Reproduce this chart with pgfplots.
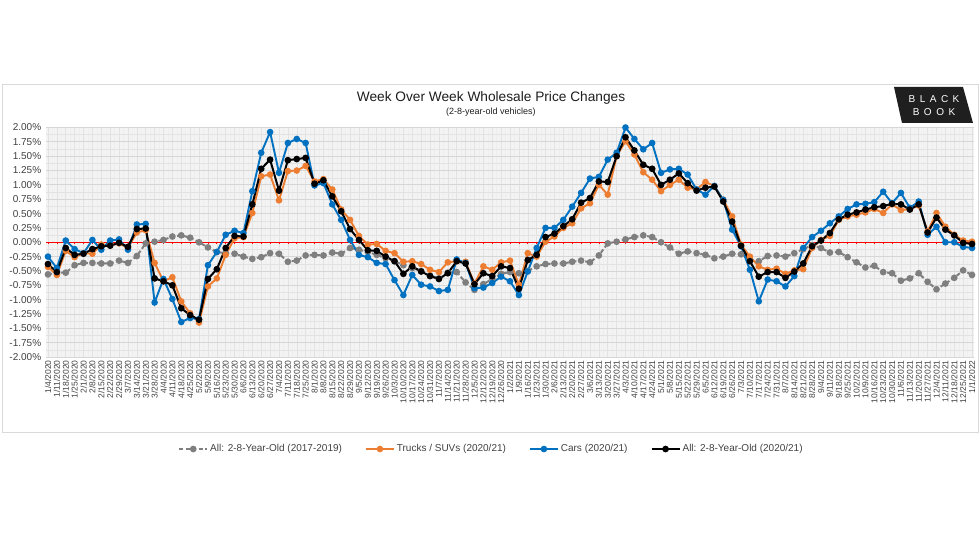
\documentclass[border=0pt]{standalone}
\usepackage{pgfplots}
\pgfplotsset{compat=1.18}
\usepackage{pgfplotstable}
\usepackage{fontspec}
\setmainfont{Liberation Sans}

\definecolor{cars}{RGB}{0,112,192}
\definecolor{trucks}{RGB}{237,125,49}
\definecolor{oldgray}{RGB}{127,127,127}
\definecolor{bggray}{RGB}{243,243,243}
\definecolor{hgrid}{RGB}{214,214,214}
\definecolor{vgrid}{RGB}{226,226,226}
\definecolor{framegray}{RGB}{217,217,217}
\definecolor{labelgray}{RGB}{64,64,64}
\definecolor{titlegray}{RGB}{30,30,30}

% week, all 2017-2019, trucks 2020/21, cars 2020/21, all 2020/21
\pgfplotstableread{
w   old    trucks  cars   all
0   -0.56  -0.43  -0.25  -0.38
1   -0.53  -0.57  -0.45  -0.52
2   -0.53  -0.15   0.03  -0.10
3   -0.40  -0.26  -0.12  -0.22
4   -0.36  -0.19  -0.19  -0.20
5   -0.36  -0.20   0.04  -0.12
6   -0.37  -0.04  -0.13  -0.07
7   -0.37  -0.05   0.03  -0.06
8   -0.32  -0.02   0.05  -0.01
9   -0.36  -0.10  -0.13  -0.08
10  -0.24   0.17   0.31   0.23
11  -0.02   0.21   0.32   0.24
12   0.01  -0.36  -1.05  -0.63
13   0.04  -0.68  -0.64  -0.68
14   0.10  -0.61  -0.99  -0.75
15   0.12  -1.03  -1.39  -1.15
16   0.08  -1.24  -1.32  -1.27
17   0.00  -1.40  -1.34  -1.35
18  -0.09  -0.77  -0.40  -0.64
19  -0.17  -0.63  -0.17  -0.47
20  -0.19  -0.22   0.13  -0.10
21  -0.20   0.07   0.20   0.11
22  -0.25   0.09   0.16   0.10
23  -0.29   0.51   0.89   0.66
24  -0.26   1.15   1.56   1.28
25  -0.19   1.18   1.92   1.44
26  -0.20   0.73   1.21   0.90
27  -0.34   1.24   1.73   1.43
28  -0.32   1.25   1.80   1.45
29  -0.23   1.33   1.73   1.47
30  -0.22   1.06   0.99   1.02
31  -0.23   1.10   1.03   1.08
32  -0.18   0.92   0.66   0.80
33  -0.20   0.57   0.39   0.54
34  -0.10   0.39   0.04   0.23
35  -0.13   0.11  -0.22   0.04
36  -0.17  -0.04  -0.26  -0.14
37  -0.22  -0.03  -0.36  -0.15
38  -0.28  -0.15  -0.38  -0.25
39  -0.33  -0.19  -0.66  -0.33
40  -0.40  -0.34  -0.92  -0.55
41  -0.45  -0.33  -0.57  -0.42
42  -0.50  -0.38  -0.74  -0.51
43  -0.58  -0.48  -0.77  -0.59
44  -0.63  -0.52  -0.85  -0.64
45  -0.53  -0.35  -0.83  -0.54
46  -0.52  -0.33  -0.30  -0.33
47  -0.70  -0.34  -0.36  -0.37
48  -0.83  -0.72  -0.80  -0.73
49  -0.73  -0.42  -0.79  -0.54
50  -0.64  -0.48  -0.71  -0.59
51  -0.55  -0.35  -0.60  -0.42
52  -0.52  -0.32  -0.68  -0.45
53  -0.54  -0.74  -0.92  -0.81
54  -0.50  -0.19  -0.51  -0.31
55  -0.42  -0.25  -0.10  -0.22
56  -0.38   0.01   0.25   0.09
57  -0.37   0.10   0.25   0.15
58  -0.37   0.25   0.39   0.28
59  -0.34   0.33   0.62   0.40
60  -0.32   0.59   0.86   0.69
61  -0.35   0.68   1.11   0.77
62  -0.23   1.00   1.14   1.06
63  -0.02   0.83   1.44   1.05
64   0.01   1.50   1.56   1.50
65   0.05   1.76   2.00   1.83
66   0.09   1.53   1.80   1.60
67   0.12   1.22   1.62   1.35
68   0.09   1.09   1.73   1.28
69   0.00   0.89   1.21   1.00
70  -0.09   1.00   1.27   1.09
71  -0.20   1.09   1.28   1.20
72  -0.16   0.95   1.18   1.03
73  -0.19   0.92   0.92   0.90
74  -0.22   1.05   0.83   0.95
75  -0.28   0.98   0.98   0.97
76  -0.25   0.74   0.74   0.71
77  -0.20   0.45   0.22   0.36
78  -0.21  -0.04  -0.07  -0.06
79  -0.30  -0.25  -0.48  -0.33
80  -0.33  -0.42  -1.03  -0.60
81  -0.24  -0.48  -0.65  -0.52
82  -0.23  -0.46  -0.68  -0.52
83  -0.25  -0.55  -0.77  -0.62
84  -0.19  -0.49  -0.59  -0.51
85  -0.12  -0.47  -0.10  -0.37
86  -0.05  -0.10   0.09  -0.07
87  -0.10   0.04   0.20   0.03
88  -0.18   0.11   0.33   0.16
89  -0.17   0.39   0.45   0.40
90  -0.26   0.45   0.58   0.48
91  -0.35   0.48   0.66   0.52
92  -0.44   0.52   0.67   0.57
93  -0.41   0.58   0.70   0.61
94  -0.52   0.51   0.88   0.63
95  -0.54   0.66   0.68   0.67
96  -0.67   0.56   0.86   0.66
97  -0.63   0.58   0.60   0.57
98  -0.54   0.64   0.71   0.66
99  -0.69   0.19   0.13   0.17
100 -0.82   0.51   0.27   0.43
101 -0.72   0.27   0.00   0.22
102 -0.62   0.13   0.00   0.12
103 -0.49   0.03  -0.08  -0.01
104 -0.57   0.01  -0.10  -0.03
}\weekly

\begin{document}
\begin{tikzpicture}
	\useasboundingbox (0pt,0pt) rectangle (980pt,552pt);
	\draw[framegray, line width=1pt] (2pt,120pt) rectangle (978pt,467pt);

	\node[font=\fontsize{13.7}{16}\selectfont, text=titlegray] at (491pt,454pt) {Week Over Week Wholesale Price Changes};
	\node[font=\fontsize{9}{10}\selectfont, text=titlegray] at (491pt,440pt) {(2-8-year-old vehicles)};

	% logo
	\fill[black!88] (894pt,465pt) -- (963pt,465pt) -- (973pt,429pt) -- (902pt,429pt) -- cycle;
	\node[white, font=\fontsize{10}{10}\selectfont\addfontfeature{LetterSpace=45}] at (934pt,453pt) {BLACK};
	\node[white, font=\fontsize{10}{10}\selectfont\addfontfeature{LetterSpace=45}] at (934pt,440pt) {BOOK};

	\begin{axis}[
			at={(46.2pt,195pt)}, anchor=south west,
			scale only axis,
			width=927.6pt, height=229.5pt,
			xmin=-0.2, xmax=104.2,
			ymin=-2, ymax=2,
			axis background/.style={fill=bggray},
			axis line style={draw=none},
			tick style={draw=none},
			ytick={-2,-1.75,-1.5,-1.25,-1,-0.75,-0.5,-0.25,0,0.25,0.5,0.75,1,1.25,1.5,1.75,2},
			yticklabels={-2.00\%,-1.75\%,-1.50\%,-1.25\%,-1.00\%,-0.75\%,-0.50\%,-0.25\%,0.00\%,0.25\%,0.50\%,0.75\%,1.00\%,1.25\%,1.50\%,1.75\%,2.00\%},
			yticklabel style={font=\fontsize{10}{12}\selectfont, text=labelgray, xshift=-1.5pt},
			xtick={0,...,104},
			xticklabels={1/4/2020,1/11/2020,1/18/2020,1/25/2020,2/1/2020,2/8/2020,2/15/2020,2/22/2020,2/29/2020,3/7/2020,3/14/2020,3/21/2020,3/28/2020,4/4/2020,4/11/2020,4/18/2020,4/25/2020,5/2/2020,5/9/2020,5/16/2020,5/23/2020,5/30/2020,6/6/2020,6/13/2020,6/20/2020,6/27/2020,7/4/2020,7/11/2020,7/18/2020,7/25/2020,8/1/2020,8/8/2020,8/15/2020,8/22/2020,8/29/2020,9/5/2020,9/12/2020,9/19/2020,9/26/2020,10/3/2020,10/10/2020,10/17/2020,10/24/2020,10/31/2020,11/7/2020,11/14/2020,11/21/2020,11/28/2020,12/5/2020,12/12/2020,12/19/2020,12/26/2020,1/2/2021,1/9/2021,1/16/2021,1/23/2021,1/30/2021,2/6/2021,2/13/2021,2/20/2021,2/27/2021,3/6/2021,3/13/2021,3/20/2021,3/27/2021,4/3/2021,4/10/2021,4/17/2021,4/24/2021,5/1/2021,5/8/2021,5/15/2021,5/22/2021,5/29/2021,6/5/2021,6/12/2021,6/19/2021,6/26/2021,7/3/2021,7/10/2021,7/17/2021,7/24/2021,7/31/2021,8/7/2021,8/14/2021,8/21/2021,8/28/2021,9/4/2021,9/11/2021,9/18/2021,9/25/2021,10/2/2021,10/9/2021,10/16/2021,10/23/2021,10/30/2021,11/6/2021,11/13/2021,11/20/2021,11/27/2021,12/4/2021,12/11/2021,12/18/2021,12/25/2021,1/1/2022},
			xticklabel style={rotate=90, anchor=east, font=\fontsize{8.5}{9}\selectfont, text=labelgray},
			xmajorgrids, ymajorgrids,
			minor x tick num=1, minor y tick num=1,
			xminorgrids, yminorgrids,
			major x grid style={draw=vgrid, line width=0.5pt},
			minor x grid style={draw=vgrid!60, line width=0.4pt},
			major y grid style={draw=hgrid, line width=0.8pt},
			minor y grid style={draw=vgrid, line width=0.4pt},
			legend columns=4,
			legend cell align=left,
			legend style={at={(axis description cs:0.48,-0.401)}, anchor=center,
				draw=none, fill=none, font=\fontsize{10}{12}\selectfont, text=labelgray,
				/tikz/every even column/.append style={column sep=21pt}},
			legend image code/.code={\draw[mark repeat=2, mark phase=2, #1] plot coordinates {(0pt,0pt) (14pt,0pt) (28pt,0pt)};},
			every axis plot/.append style={mark=*, mark size=2.3pt}
		]

		\addplot[red, line width=0.8pt, mark=none, forget plot] coordinates {(-0.2,0) (104.2,0)};
		\pgfplotsinvokeforeach{0,...,104}{
			\draw[red, line width=0.6pt] (axis cs:#1,0) -- (axis cs:#1,-0.035);
		}

		\addplot[oldgray, line width=2pt, dash pattern=on 4pt off 2.5pt, mark options={solid}]
		table[x=w, y=old] {\weekly};
		\addlegendentry{All: 2-8-Year-Old (2017-2019)}

		\addplot[trucks, line width=1.9pt]
		table[x=w, y=trucks] {\weekly};
		\addlegendentry{Trucks / SUVs (2020/21)}

		\addplot[cars, line width=1.9pt]
		table[x=w, y=cars] {\weekly};
		\addlegendentry{Cars (2020/21)}

		\addplot[black, line width=2pt]
		table[x=w, y=all] {\weekly};
		\addlegendentry{All: 2-8-Year-Old (2020/21)}

	\end{axis}
\end{tikzpicture}
\end{document}
